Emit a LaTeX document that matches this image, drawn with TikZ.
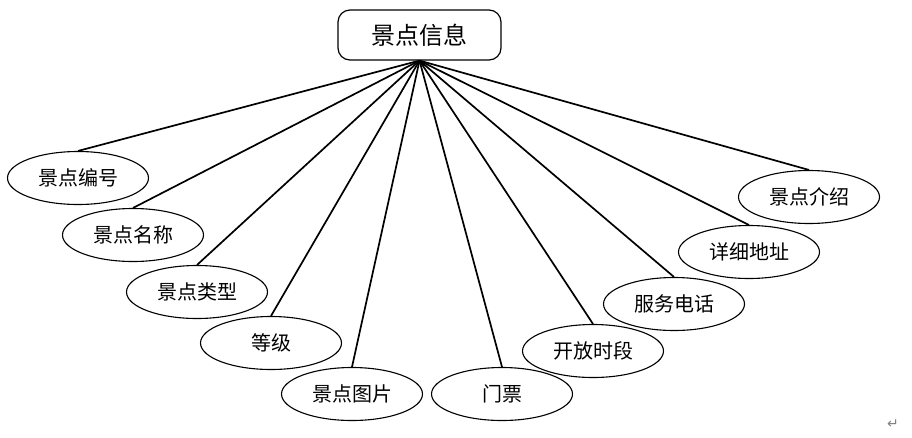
\documentclass[tikz,border=0pt]{standalone}
\usepackage{fontspec}
\setmainfont{Noto Sans CJK SC}
\newfontfamily\symfont{DejaVu Sans}
\usetikzlibrary{shapes.geometric}

\tikzset{
  entity/.style={draw,rounded corners=12pt,line width=1.2pt,minimum width=163pt,
    minimum height=50pt,inner sep=0pt,font=\fontsize{24}{26}\selectfont},
  attr/.style={draw,ellipse,line width=1.1pt,minimum width=141pt,minimum height=53pt,
    inner sep=0pt,font=\fontsize{20}{22}\selectfont},
  link/.style={line width=1.7pt}
}

\begin{document}
\begin{tikzpicture}[x=1pt,y=-1pt]
\useasboundingbox (0,0) rectangle (912,437);
% Entity
\node[entity] (info) at (419.5,35) {景点信息};
% Attributes, left side
\node[attr] (id) at (78,178) {景点编号};
\node[attr] (name) at (133,235) {景点名称};
\node[attr] (type) at (197,292) {景点类型};
\node[attr] (grade) at (271,343) {等级};
\node[attr] (pic) at (352,394) {景点图片};
% Attributes, right side
\node[attr] (ticket) at (502,394) {门票};
\node[attr] (hours) at (593,351) {开放时段};
\node[attr] (phone) at (674,304) {服务电话};
\node[attr] (addr) at (749,252) {详细地址};
\node[attr] (intro) at (809,197) {景点介绍};
% Links
\draw[link] (info.south) -- (id.north);
\draw[link] (info.south) -- (name.north);
\draw[link] (info.south) -- (type.north);
\draw[link] (info.south) -- (grade.north);
\draw[link] (info.south) -- (pic.north);
\draw[link] (info.south) -- (ticket.north);
\draw[link] (info.south) -- (hours.north);
\draw[link] (info.south) -- (phone.north);
\draw[link] (info.south) -- (addr.north);
\draw[link] (info.south) -- (intro.north);
% Paragraph mark
\node[text=gray,font=\symfont\fontsize{14}{14}\selectfont] (mark) at (893,424) {↵};
\end{tikzpicture}
\end{document}
